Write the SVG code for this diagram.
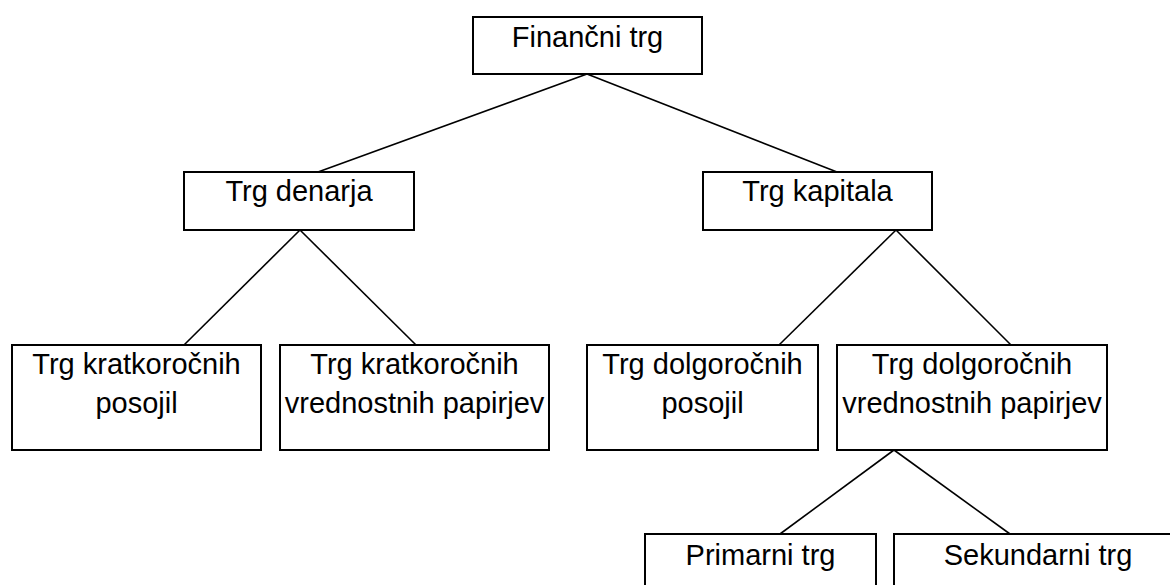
<svg xmlns="http://www.w3.org/2000/svg" width="1170" height="585" viewBox="0 0 1170 585">
<style>
rect{fill:#fff;stroke:#000;stroke-width:2}
text{font-family:"Liberation Sans",Arial,sans-serif;font-size:29px;fill:#000;text-anchor:middle}
#connectors line{stroke:#000;stroke-width:1.6}
</style>
<rect x="0" y="0" width="1170" height="585" style="stroke:none"/>
<g id="connectors">
<line x1="587" y1="74" x2="318" y2="172"/>
<line x1="587" y1="74" x2="837" y2="172"/>
<line x1="300" y1="230" x2="184" y2="345"/>
<line x1="300" y1="230" x2="416" y2="345"/>
<line x1="896" y1="230" x2="779" y2="345"/>
<line x1="896" y1="230" x2="1011" y2="345"/>
<line x1="894" y1="450" x2="780" y2="534"/>
<line x1="894" y1="450" x2="1010" y2="534"/>
</g>
<g id="financni"><rect x="473" y="17" width="229" height="57"/><text x="587.5" y="47">Finančni trg</text></g>
<g id="denarja"><rect x="184" y="172" width="230" height="58"/><text x="299" y="201">Trg denarja</text></g>
<g id="kapitala"><rect x="703" y="172" width="229" height="58"/><text x="817.5" y="201">Trg kapitala</text></g>
<g id="kratko-posojil"><rect x="12" y="345" width="249" height="105"/><text x="136.5" y="374">Trg kratkoročnih</text><text x="136.5" y="413">posojil</text></g>
<g id="kratko-vp"><rect x="280" y="345" width="269" height="105"/><text x="414.5" y="374">Trg kratkoročnih</text><text x="414.5" y="413">vrednostnih papirjev</text></g>
<g id="dolgo-posojil"><rect x="587" y="345" width="231" height="105"/><text x="702.5" y="374">Trg dolgoročnih</text><text x="702.5" y="413">posojil</text></g>
<g id="dolgo-vp"><rect x="837" y="345" width="270" height="105"/><text x="972" y="374">Trg dolgoročnih</text><text x="972" y="413">vrednostnih papirjev</text></g>
<g id="primarni"><rect x="645" y="534" width="231" height="70"/><text x="760.5" y="565">Primarni trg</text></g>
<g id="sekundarni"><rect x="894" y="534" width="288" height="70"/><text x="1038" y="565">Sekundarni trg</text></g>
</svg>
